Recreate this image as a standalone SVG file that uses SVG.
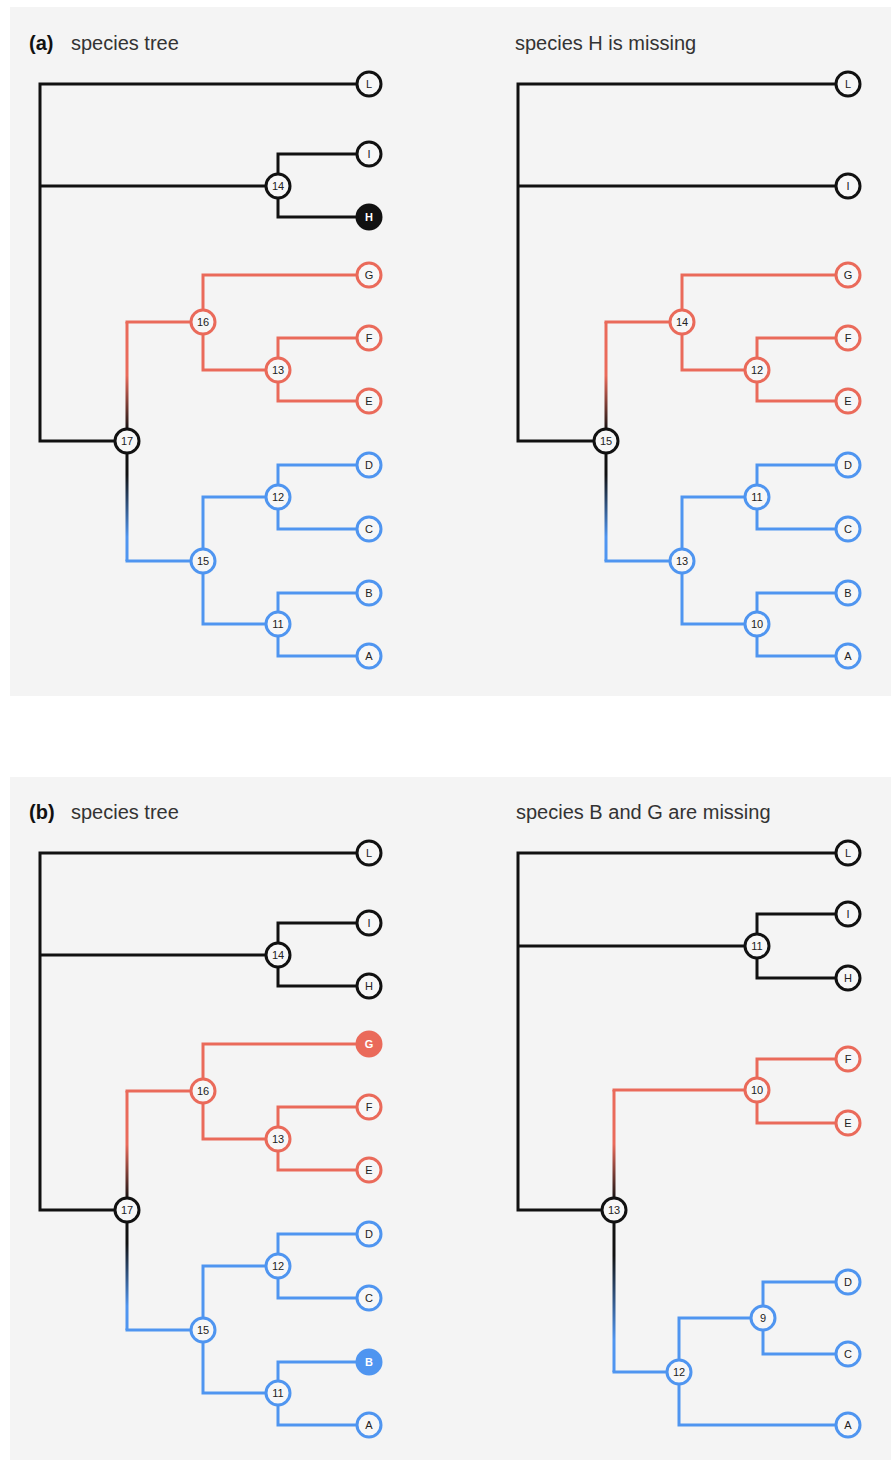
<svg xmlns="http://www.w3.org/2000/svg" width="891" height="1460" viewBox="0 0 891 1460">
  <style>
    .panel { fill: #f4f4f4; }
    .title { font-family: "Liberation Sans", Arial, sans-serif; font-size: 20px; fill: #333; }
    .tag { font-family: "Liberation Sans", Arial, sans-serif; font-size: 20px; font-weight: bold; fill: #111; }
    .e { fill: none; stroke-width: 3; stroke-linejoin: miter; stroke-linecap: square; }
    .k { stroke: #111; }
    .r { stroke: #ea6a5a; }
    .b { stroke: #4f95f0; }
    .n circle { fill: #f7f7f7; stroke-width: 3; }
    .n text { font-family: "Liberation Sans", Arial, sans-serif; font-size: 11px; fill: #222; text-anchor: middle; dominant-baseline: central; }
    .nk circle { stroke: #111; }
    .nr circle { stroke: #ea6a5a; }
    .nb circle { stroke: #4f95f0; }
    .fk circle { fill: #111; }
    .fr circle { fill: #ea6a5a; }
    .fb circle { fill: #4f95f0; }
    .f text { fill: #fff; font-weight: bold; }
  </style>
  <defs>
    <!-- stem above the root: red away from the node, black at the node -->
    <linearGradient id="redUp" x1="0" y1="0" x2="0" y2="1">
      <stop offset="0.45" stop-color="#ea6a5a"/>
      <stop offset="0.92" stop-color="#111"/>
    </linearGradient>
    <!-- stem below the root: black at the node, blue away from it -->
    <linearGradient id="blueDown" x1="0" y1="0" x2="0" y2="1">
      <stop offset="0.28" stop-color="#111"/>
      <stop offset="0.8" stop-color="#4f95f0"/>
    </linearGradient>
  </defs>

  <rect class="panel" x="10" y="7" width="881" height="689"/>
  <rect class="panel" x="10" y="777" width="881" height="683"/>

  <g id="headers">
    <text class="tag" x="29" y="50">(a)</text>
    <text class="title" x="71" y="50">species tree</text>
    <text class="title" x="515" y="50">species H is missing</text>
    <text class="tag" x="29" y="819">(b)</text>
    <text class="title" x="71" y="819">species tree</text>
    <text class="title" x="516" y="819">species B and G are missing</text>
  </g>

  <g id="connectors">
    <!-- (a) species tree -->
    <path class="e k" d="M369,84 H40 V441 H127 M40,186 H278 M369,154 H278 V217 H369"/>
    <rect x="125.5" y="322" width="3" height="119" fill="url(#redUp)"/>
    <path class="e r" d="M127,322 H203 M369,275 H203 V370 H278 M369,338 H278 V401 H369"/>
    <rect x="125.5" y="441" width="3" height="120" fill="url(#blueDown)"/>
    <path class="e b" d="M127,561 H203 M278,497 H203 V624 H278 M369,465 H278 V529 H369 M369,593 H278 V656 H369"/>

    <!-- (a) H removed -->
    <path class="e k" d="M848,84 H518 V441 H606 M518,186 H848"/>
    <rect x="604.5" y="322" width="3" height="119" fill="url(#redUp)"/>
    <path class="e r" d="M606,322 H682 M848,275 H682 V370 H757 M848,338 H757 V401 H848"/>
    <rect x="604.5" y="441" width="3" height="120" fill="url(#blueDown)"/>
    <path class="e b" d="M606,561 H682 M757,497 H682 V624 H757 M848,465 H757 V529 H848 M848,593 H757 V656 H848"/>

    <!-- (b) species tree -->
    <path class="e k" d="M369,853 H40 V1210 H127 M40,955 H278 M369,923 H278 V986 H369"/>
    <rect x="125.5" y="1091" width="3" height="119" fill="url(#redUp)"/>
    <path class="e r" d="M127,1091 H203 M369,1044 H203 V1139 H278 M369,1107 H278 V1170 H369"/>
    <rect x="125.5" y="1210" width="3" height="120" fill="url(#blueDown)"/>
    <path class="e b" d="M127,1330 H203 M278,1266 H203 V1393 H278 M369,1234 H278 V1298 H369 M369,1362 H278 V1425 H369"/>

    <!-- (b) B and G removed -->
    <path class="e k" d="M848,853 H518 V1210 H614 M518,946 H757 M848,914 H757 V978 H848"/>
    <rect x="612.5" y="1090" width="3" height="120" fill="url(#redUp)"/>
    <path class="e r" d="M614,1090 H757 M848,1059 H757 V1123 H848"/>
    <rect x="612.5" y="1210" width="3" height="162" fill="url(#blueDown)"/>
    <path class="e b" d="M614,1372 H679 M763,1318 H679 V1425 H848 M848,1282 H763 V1354 H848"/>
  </g>

  <!-- (a) species tree nodes -->
  <g id="a1-L" class="n nk"><circle cx="369" cy="84" r="12"/><text x="369" y="84">L</text></g>
  <g id="a1-I" class="n nk"><circle cx="369" cy="154" r="12"/><text x="369" y="154">I</text></g>
  <g id="a1-H" class="n nk fk f"><circle cx="369" cy="217" r="12"/><text x="369" y="217">H</text></g>
  <g id="a1-14" class="n nk"><circle cx="278" cy="186" r="12"/><text x="278" y="186">14</text></g>
  <g id="a1-17" class="n nk"><circle cx="127" cy="441" r="12"/><text x="127" y="441">17</text></g>
  <g id="a1-16" class="n nr"><circle cx="203" cy="322" r="12"/><text x="203" y="322">16</text></g>
  <g id="a1-13" class="n nr"><circle cx="278" cy="370" r="12"/><text x="278" y="370">13</text></g>
  <g id="a1-G" class="n nr"><circle cx="369" cy="275" r="12"/><text x="369" y="275">G</text></g>
  <g id="a1-F" class="n nr"><circle cx="369" cy="338" r="12"/><text x="369" y="338">F</text></g>
  <g id="a1-E" class="n nr"><circle cx="369" cy="401" r="12"/><text x="369" y="401">E</text></g>
  <g id="a1-15" class="n nb"><circle cx="203" cy="561" r="12"/><text x="203" y="561">15</text></g>
  <g id="a1-12" class="n nb"><circle cx="278" cy="497" r="12"/><text x="278" y="497">12</text></g>
  <g id="a1-11" class="n nb"><circle cx="278" cy="624" r="12"/><text x="278" y="624">11</text></g>
  <g id="a1-D" class="n nb"><circle cx="369" cy="465" r="12"/><text x="369" y="465">D</text></g>
  <g id="a1-C" class="n nb"><circle cx="369" cy="529" r="12"/><text x="369" y="529">C</text></g>
  <g id="a1-B" class="n nb"><circle cx="369" cy="593" r="12"/><text x="369" y="593">B</text></g>
  <g id="a1-A" class="n nb"><circle cx="369" cy="656" r="12"/><text x="369" y="656">A</text></g>

  <!-- (a) tree without H -->
  <g id="a2-L" class="n nk"><circle cx="848" cy="84" r="12"/><text x="848" y="84">L</text></g>
  <g id="a2-I" class="n nk"><circle cx="848" cy="186" r="12"/><text x="848" y="186">I</text></g>
  <g id="a2-15" class="n nk"><circle cx="606" cy="441" r="12"/><text x="606" y="441">15</text></g>
  <g id="a2-14" class="n nr"><circle cx="682" cy="322" r="12"/><text x="682" y="322">14</text></g>
  <g id="a2-12" class="n nr"><circle cx="757" cy="370" r="12"/><text x="757" y="370">12</text></g>
  <g id="a2-G" class="n nr"><circle cx="848" cy="275" r="12"/><text x="848" y="275">G</text></g>
  <g id="a2-F" class="n nr"><circle cx="848" cy="338" r="12"/><text x="848" y="338">F</text></g>
  <g id="a2-E" class="n nr"><circle cx="848" cy="401" r="12"/><text x="848" y="401">E</text></g>
  <g id="a2-13" class="n nb"><circle cx="682" cy="561" r="12"/><text x="682" y="561">13</text></g>
  <g id="a2-11" class="n nb"><circle cx="757" cy="497" r="12"/><text x="757" y="497">11</text></g>
  <g id="a2-10" class="n nb"><circle cx="757" cy="624" r="12"/><text x="757" y="624">10</text></g>
  <g id="a2-D" class="n nb"><circle cx="848" cy="465" r="12"/><text x="848" y="465">D</text></g>
  <g id="a2-C" class="n nb"><circle cx="848" cy="529" r="12"/><text x="848" y="529">C</text></g>
  <g id="a2-B" class="n nb"><circle cx="848" cy="593" r="12"/><text x="848" y="593">B</text></g>
  <g id="a2-A" class="n nb"><circle cx="848" cy="656" r="12"/><text x="848" y="656">A</text></g>

  <!-- (b) species tree nodes -->
  <g id="b1-L" class="n nk"><circle cx="369" cy="853" r="12"/><text x="369" y="853">L</text></g>
  <g id="b1-I" class="n nk"><circle cx="369" cy="923" r="12"/><text x="369" y="923">I</text></g>
  <g id="b1-H" class="n nk"><circle cx="369" cy="986" r="12"/><text x="369" y="986">H</text></g>
  <g id="b1-14" class="n nk"><circle cx="278" cy="955" r="12"/><text x="278" y="955">14</text></g>
  <g id="b1-17" class="n nk"><circle cx="127" cy="1210" r="12"/><text x="127" y="1210">17</text></g>
  <g id="b1-16" class="n nr"><circle cx="203" cy="1091" r="12"/><text x="203" y="1091">16</text></g>
  <g id="b1-13" class="n nr"><circle cx="278" cy="1139" r="12"/><text x="278" y="1139">13</text></g>
  <g id="b1-G" class="n nr fr f"><circle cx="369" cy="1044" r="12"/><text x="369" y="1044">G</text></g>
  <g id="b1-F" class="n nr"><circle cx="369" cy="1107" r="12"/><text x="369" y="1107">F</text></g>
  <g id="b1-E" class="n nr"><circle cx="369" cy="1170" r="12"/><text x="369" y="1170">E</text></g>
  <g id="b1-15" class="n nb"><circle cx="203" cy="1330" r="12"/><text x="203" y="1330">15</text></g>
  <g id="b1-12" class="n nb"><circle cx="278" cy="1266" r="12"/><text x="278" y="1266">12</text></g>
  <g id="b1-11" class="n nb"><circle cx="278" cy="1393" r="12"/><text x="278" y="1393">11</text></g>
  <g id="b1-D" class="n nb"><circle cx="369" cy="1234" r="12"/><text x="369" y="1234">D</text></g>
  <g id="b1-C" class="n nb"><circle cx="369" cy="1298" r="12"/><text x="369" y="1298">C</text></g>
  <g id="b1-B" class="n nb fb f"><circle cx="369" cy="1362" r="12"/><text x="369" y="1362">B</text></g>
  <g id="b1-A" class="n nb"><circle cx="369" cy="1425" r="12"/><text x="369" y="1425">A</text></g>

  <!-- (b) tree without B and G -->
  <g id="b2-L" class="n nk"><circle cx="848" cy="853" r="12"/><text x="848" y="853">L</text></g>
  <g id="b2-I" class="n nk"><circle cx="848" cy="914" r="12"/><text x="848" y="914">I</text></g>
  <g id="b2-H" class="n nk"><circle cx="848" cy="978" r="12"/><text x="848" y="978">H</text></g>
  <g id="b2-11" class="n nk"><circle cx="757" cy="946" r="12"/><text x="757" y="946">11</text></g>
  <g id="b2-13" class="n nk"><circle cx="614" cy="1210" r="12"/><text x="614" y="1210">13</text></g>
  <g id="b2-10" class="n nr"><circle cx="757" cy="1090" r="12"/><text x="757" y="1090">10</text></g>
  <g id="b2-F" class="n nr"><circle cx="848" cy="1059" r="12"/><text x="848" y="1059">F</text></g>
  <g id="b2-E" class="n nr"><circle cx="848" cy="1123" r="12"/><text x="848" y="1123">E</text></g>
  <g id="b2-12" class="n nb"><circle cx="679" cy="1372" r="12"/><text x="679" y="1372">12</text></g>
  <g id="b2-9" class="n nb"><circle cx="763" cy="1318" r="12"/><text x="763" y="1318">9</text></g>
  <g id="b2-D" class="n nb"><circle cx="848" cy="1282" r="12"/><text x="848" y="1282">D</text></g>
  <g id="b2-C" class="n nb"><circle cx="848" cy="1354" r="12"/><text x="848" y="1354">C</text></g>
  <g id="b2-A" class="n nb"><circle cx="848" cy="1425" r="12"/><text x="848" y="1425">A</text></g>
</svg>
